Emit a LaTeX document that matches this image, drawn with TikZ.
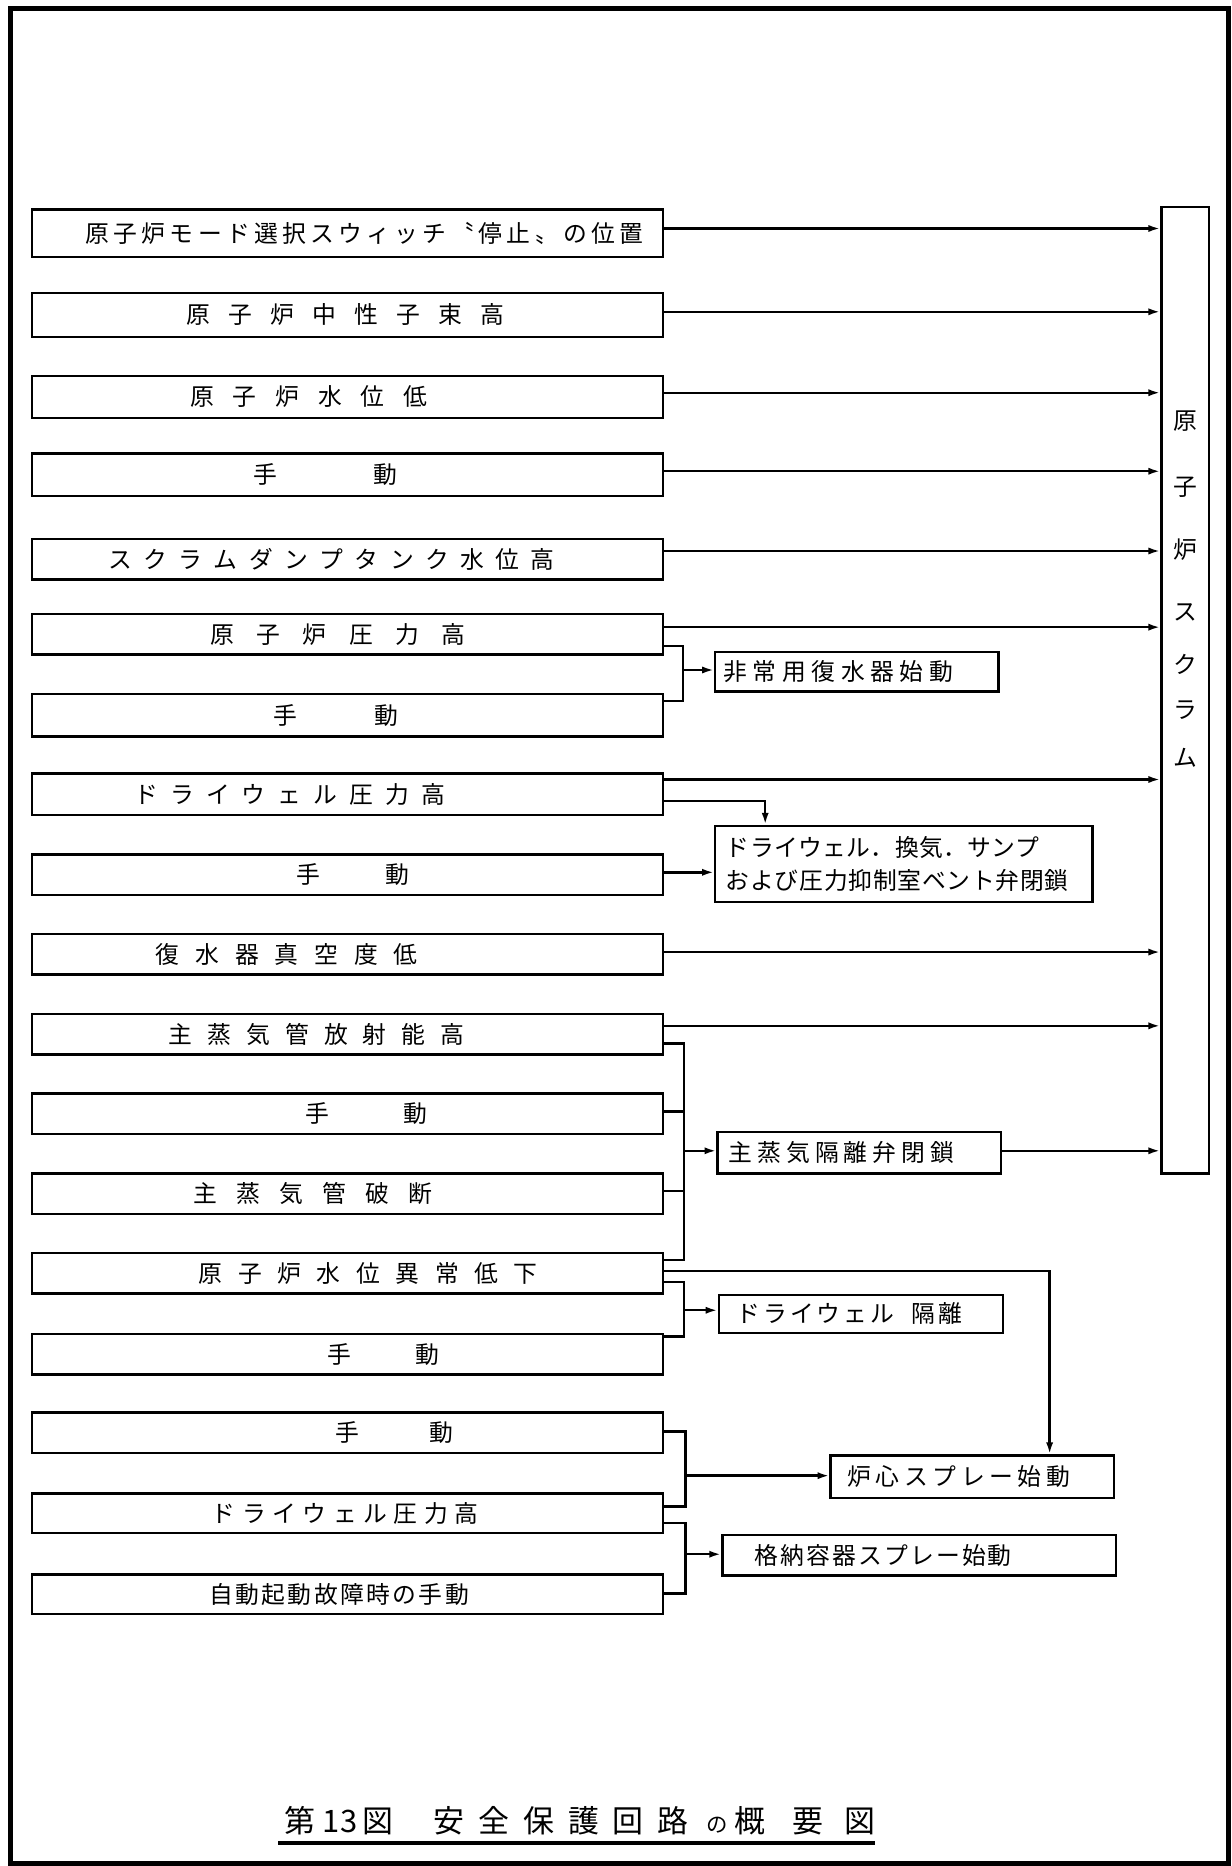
\documentclass[tikz,border=0pt]{standalone}
\usepackage{fontspec}
\setmainfont{Noto Sans CJK JP}
\usetikzlibrary{arrows.meta}
\newdimen\UU \UU=0.5pt
\def\spendmark{SPENDMARK}
\newcommand\spaced[2]{\def\spgap{#1}\spacedloop#2\spendmark}
\def\spacedloop#1{\ifx\spendmark#1\else#1\hspace{\spgap}\expandafter\spacedloop\fi}
\newcommand\bx[4]{\makebox[#1\UU][l]{\hspace{#2\UU}\spaced{#3\UU}{#4}}}
\begin{document}
\begin{tikzpicture}[x=0.5pt,y=-0.5pt,
  lbl/.style={draw, line width=1pt, inner sep=0pt, anchor=north west, font=\fontsize{10pt}{12pt}\selectfont},
  arr/.style={line width=1pt, -{Latex[length=5pt,width=3pt]}},
  ln/.style={line width=1pt}]
\useasboundingbox (0,0) rectangle (1035,1568);
\draw[line width=2.2pt] (9,7) rectangle (1032,1566);

% input boxes
\node[lbl, minimum height=20pt]   (b1)  at (26,175)  {\bx{530}{45}{3.6}{原子炉モード選択スウィッチ〝停止〟の位置}};
\node[lbl, minimum height=18.5pt] (b2)  at (26,245)  {\bx{530}{130}{15.3}{原子炉中性子束高}};
\node[lbl, minimum height=17.5pt] (b3)  at (26,315)  {\bx{530}{133}{15.8}{原子炉水位低}};
\node[lbl, minimum height=18pt]   (b4)  at (26,380)  {\bx{530}{186}{81}{手動}};
\node[lbl, minimum height=17pt]   (b5)  at (26,452)  {\bx{530}{64}{9.6}{スクラムダンプタンク水位高}};
\node[lbl, minimum height=17pt]   (b6)  at (26,515)  {\bx{530}{150}{18.8}{原子炉圧力高}};
\node[lbl, minimum height=18pt]   (b7)  at (26,582)  {\bx{530}{203}{65}{手動}};
\node[lbl, minimum height=17.5pt] (b8)  at (26,649)  {\bx{530}{86}{10.1}{ドライウェル圧力高}};
\node[lbl, minimum height=17pt]   (b9)  at (26,717)  {\bx{530}{222}{55}{手動}};
\node[lbl, minimum height=17pt]   (b10) at (26,784)  {\bx{530}{104}{13.3}{復水器真空度低}};
\node[lbl, minimum height=17pt]   (b11) at (26,851)  {\bx{530}{115}{12.6}{主蒸気管放射能高}};
\node[lbl, minimum height=17pt]   (b12) at (26,918)  {\bx{530}{230}{62}{手動}};
\node[lbl, minimum height=17pt]   (b13) at (26,985)  {\bx{530}{136}{16}{主蒸気管破断}};
\node[lbl, minimum height=17pt]   (b14) at (26,1052) {\bx{530}{140}{13.1}{原子炉水位異常低下}};
\node[lbl, minimum height=17pt]   (b15) at (26,1120) {\bx{530}{248}{54}{手動}};
\node[lbl, minimum height=17pt]   (b16) at (26,1186) {\bx{530}{255}{59}{手動}};
\node[lbl, minimum height=16.5pt] (b17) at (26,1254) {\bx{530}{151}{5.5}{ドライウェル圧力高}};
\node[lbl, minimum height=16.5pt] (b18) at (26,1322) {\bx{530}{149}{2}{自動起動故障時の手動}};

% output boxes
\node[lbl, minimum height=16.5pt] (r1) at (600,547) {\bx{238}{7}{4.7}{非常用復水器始動}};
\node[lbl, minimum height=32pt] (r2) at (600,693) {\parbox{158.5pt}{\fontsize{10pt}{14pt}\selectfont
  \mbox{\hspace{9\UU}\spaced{0.3\UU}{ドライウェル．換気．サンプ}}\\
  \mbox{\hspace{9\UU}\spaced{0.6\UU}{および圧力抑制室ベント弁閉鎖}}}};
\node[lbl, minimum height=17.5pt] (r3) at (602,950) {\bx{238}{9}{4.3}{主蒸気隔離弁閉鎖}};
\node[lbl, minimum height=16pt] (r4) at (603,1087) {\makebox[239\UU][l]{\hspace{15\UU}\spaced{2.5\UU}{ドライウェル}\hspace{12\UU}\spaced{2.5\UU}{隔離}}};
\node[lbl, minimum height=18pt] (r5) at (697,1222) {\bx{238}{14}{3.9}{炉心スプレー始動}};
\node[lbl, minimum height=17pt] (r6) at (606,1289) {\bx{331}{27}{1.8}{格納容器スプレー始動}};

% scram box
\node[lbl, minimum width=20pt, minimum height=406pt] (scram) at (975,173)
  {\parbox[c][406pt][t]{20pt}{\centering\fontsize{10pt}{10pt}\selectfont
   \vspace*{85.5pt}原\\[18pt]子\\[16.5pt]炉\\[16pt]ス\\[12pt]ク\\[9pt]ラ\\[10pt]ム}};

% arrows to scram
\draw[arr] (b1.east |- 0,192) -- (scram.west |- 0,192);
\draw[arr] (b2.east |- 0,262) -- (scram.west |- 0,262);
\draw[arr] (b3.east |- 0,330) -- (scram.west |- 0,330);
\draw[arr] (b4.east |- 0,396) -- (scram.west |- 0,396);
\draw[arr] (b5.east |- 0,463) -- (scram.west |- 0,463);
\draw[arr] (b6.east |- 0,527) -- (scram.west |- 0,527);
\draw[arr] (b8.east |- 0,655) -- (scram.west |- 0,655);
\draw[arr] (b10.east |- 0,800) -- (scram.west |- 0,800);
\draw[arr] (b11.east |- 0,862) -- (scram.west |- 0,862);

% group 1
\coordinate (j1) at (574,563);
\draw[ln] (b6.east |- 0,543) -| (j1) |- (b7.east |- 0,589);
\draw[arr] (j1) -- (r1.west |- j1);

% drywell vent
\coordinate (k1) at (643,673);
\draw[arr] (b8.east |- k1) -| (k1 |- r2.north);
\draw[arr] (b9.east |- 0,733) -- (r2.west |- 0,733);

% MSIV group
\coordinate (j2) at (575,967);
\draw[ln] (b11.east |- 0,877) -| (j2) |- (b14.east |- 0,1059);
\draw[ln] (b12.east |- 0,934) -- (j2 |- 0,934);
\draw[ln] (b13.east |- 0,1001) -- (j2 |- 0,1001);
\draw[arr] (j2) -- (r3.west |- j2);
\draw[arr] (r3.east |- j2) -- (scram.west |- j2);

% core spray from low-low level
\coordinate (k2) at (882,1068);
\draw[arr] (b14.east |- k2) -| (k2 |- r5.north);

% drywell isolation
\coordinate (j3) at (575,1101);
\draw[ln] (b14.east |- 0,1077) -| (j3) |- (b15.east |- 0,1123);
\draw[arr] (j3) -- (r4.west |- j3);

% core spray
\coordinate (j4) at (576,1240);
\draw[ln] (b16.east |- 0,1203) -| (j4) |- (b17.east |- 0,1266);
\draw[arr] (j4) -- (r5.west |- j4);

% containment spray
\coordinate (j5) at (576,1306);
\draw[ln] (b17.east |- 0,1280) -| (j5) |- (b18.east |- 0,1339);
\draw[arr] (j5) -- (r6.west |- j5);

% title
\node[inner sep=0pt, anchor=west, font=\fontsize{13pt}{15pt}\selectfont] (title) at (239,1530)
  {第\hspace{3pt}13\hspace{2pt}図\hspace{17pt}\spaced{11.7\UU}{安全保護回路}\hspace{1.4pt}{\fontsize{9pt}{9pt}\selectfont の}\hspace{3pt}概\hspace{11.5pt}要\hspace{8.5pt}図};
\draw[line width=1.6pt] ([shift={(-5,6)}]title.south west) -- ([shift={(0,6)}]title.south east);
\end{tikzpicture}
\end{document}
